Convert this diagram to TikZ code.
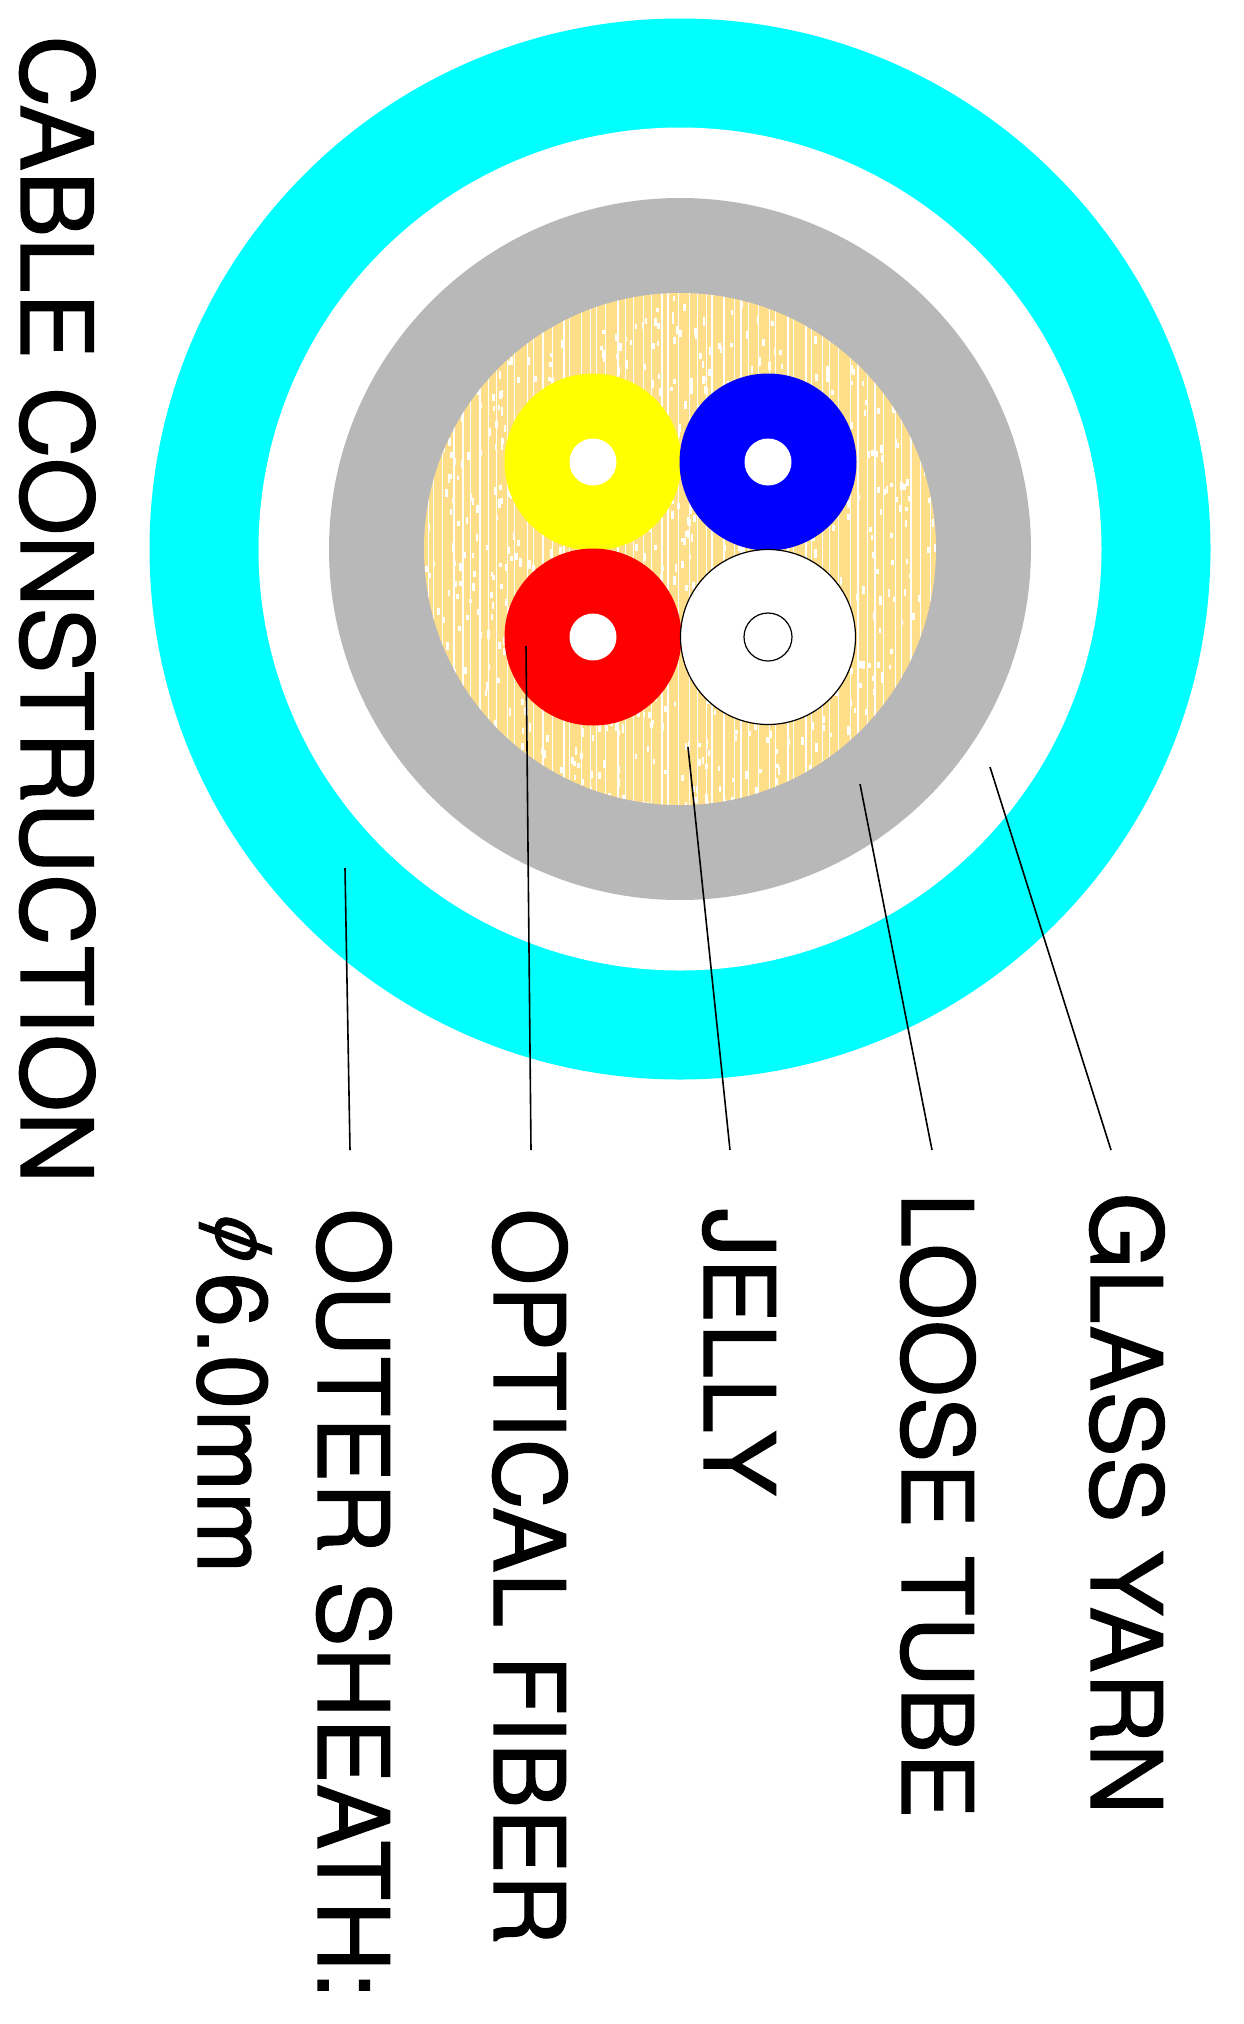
\documentclass[tikz,border=0pt]{standalone}
\usepackage{fontspec}
\setmainfont{TeX Gyre Heros}[FakeBold=1.1]
\newfontfamily\symfont{Liberation Sans}[FakeSlant=0.36,FakeBold=1.1]
\usetikzlibrary{calc}
\definecolor{sheathcolor}{RGB}{0, 255, 255}
\definecolor{tubecolor}{RGB}{184, 184, 184}
\definecolor{jellycolor}{RGB}{255, 222, 138}
\definecolor{fiberyellow}{RGB}{255, 255, 0}
\definecolor{fiberblue}{RGB}{0, 0, 255}
\definecolor{fiberred}{RGB}{255, 0, 0}
\begin{document}
\begin{tikzpicture}[
    x=0.5pt, y=-0.5pt,
    % Circle styles
    ring/.style={circle, draw=none, inner sep=0pt, outer sep=0pt},
    fiberblock/.style={ring, minimum size=177*0.5pt},
    coreblock/.style={ring, fill=white, minimum size=47*0.5pt},
    whitefiber/.style={ring, draw=black, line width=0.6pt, fill=white, minimum size=175*0.5pt},
    whitecore/.style={ring, draw=black, line width=0.6pt, fill=white, minimum size=48*0.5pt},
    % Labels and leaders
    sectionlabel/.style={rotate=-90, anchor=base west, inner sep=0pt, font=\fontsize{49.3}{50}\selectfont},
    titlelabel/.style={sectionlabel, font=\fontsize{49.8}{50}\selectfont},
    leader/.style={draw=black, line width=0.8pt},
]

\useasboundingbox (0,0) rectangle (1243,2024);

% ============================================================================
% CABLE LAYERS
% ============================================================================
\coordinate (center) at (680,549);
\node[ring, fill=sheathcolor, minimum size=1061*0.5pt] (sheath) at (center) {};
\node[ring, fill=white, minimum size=843*0.5pt] (yarn) at (center) {};
\node[ring, fill=tubecolor, minimum size=702*0.5pt] (tube) at (center) {};
\node[ring, fill=jellycolor, minimum size=512*0.5pt] (jelly) at (center) {};

% Jelly texture
\begin{scope}
    \clip (center) circle (256);
    \pgfmathsetseed{7}
    \foreach \i in {0,...,56} {
        \pgfmathsetmacro{\lx}{424+9*\i+rnd*5}
        \pgfmathsetmacro{\lw}{0.4+rnd*0.5}
        \draw[white, line width=\lw pt] (\lx,290) -- (\lx,810);
    }
    \foreach \i in {1,...,900} {
        \pgfmathsetmacro{\px}{424+rnd*512}
        \pgfmathsetmacro{\py}{290+rnd*520}
        \pgfmathsetmacro{\ph}{2+rnd*2.5}
        \fill[white] (\px-1.3,\py-\ph) rectangle (\px+1.3,\py+\ph);
    }
\end{scope}

% ============================================================================
% FIBERS
% ============================================================================
\node[fiberblock, fill=fiberyellow] (fibery) at (593,462) {};
\node[coreblock] (corey) at (fibery) {};
\node[fiberblock, fill=fiberblue] (fiberb) at (768,462) {};
\node[coreblock] (coreb) at (fiberb) {};
\node[fiberblock, fill=fiberred] (fiberr) at (593,637) {};
\node[coreblock] (corer) at (fiberr) {};
\node[whitefiber] (fiberw) at (768,637) {};
\node[whitecore] (corew) at (fiberw) {};

% ============================================================================
% LABELS
% ============================================================================
\node[titlelabel] (title) at (21,35) {CABLE CONSTRUCTION};
\node[sectionlabel] (glasslabel) at (1091,1192) {GLASS YARN};
\node[sectionlabel] (tubelabel) at (902,1192) {LOOSE TUBE};
\node[sectionlabel] (jellylabel) at (704,1208) {JELL\kern-1.5pt Y};
\node[sectionlabel] (fiberlabel) at (494,1208) {OPTICAL FIBER};
\node[sectionlabel] (sheathlabel) at (318,1208) {OUTER SHEATH:};
\node[sectionlabel] (sizelabel) at (198,1213) {\makebox[29.5pt][l]{\hspace{-2pt}\raisebox{8.6pt}{\fontsize{39}{39}\selectfont\symfont ϕ}}6.0mm};

% ============================================================================
% LEADERS
% ============================================================================
\coordinate (glassin) at (990,767);
\coordinate (glassout) at (1111,1150);
\coordinate (tubein) at (860,784);
\coordinate (tubeout) at (932,1150);
\coordinate (jellyin) at (688,747);
\coordinate (jellyout) at (730,1150);
\coordinate (fiberin) at (526,646);
\coordinate (fiberout) at (531,1150);
\coordinate (sheathin) at (345,868);
\coordinate (sheathout) at (350,1150);
\draw[leader] (glassin) -- (glassout);
\draw[leader] (tubein) -- (tubeout);
\draw[leader] (jellyin) -- (jellyout);
\draw[leader] (fiberin) -- (fiberout);
\draw[leader] (sheathin) -- (sheathout);

\end{tikzpicture}
\end{document}
